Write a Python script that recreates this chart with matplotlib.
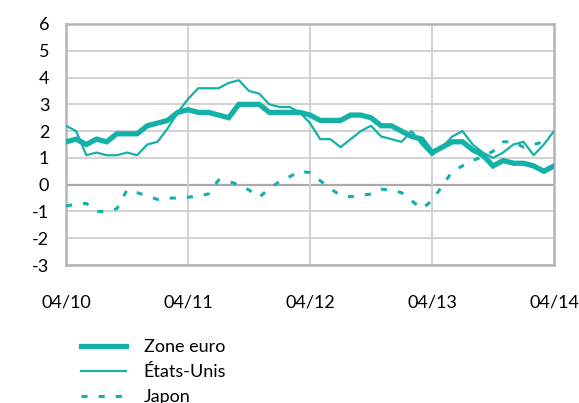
import matplotlib
matplotlib.use("Agg")
import matplotlib.pyplot as plt
import numpy as np

plt.rcParams['font.family'] = ['Lato', 'DejaVu Sans']

# Monthly data, 04/2010 .. 04/2014
zone_euro = [1.6, 1.7, 1.5, 1.7, 1.6, 1.9, 1.9, 1.9, 2.2, 2.3, 2.4, 2.7,
             2.8, 2.7, 2.7, 2.6, 2.5, 3.0, 3.0, 3.0, 2.7, 2.7, 2.7, 2.7,
             2.6, 2.4, 2.4, 2.4, 2.6, 2.6, 2.5, 2.2, 2.2, 2.0, 1.8, 1.7,
             1.2, 1.4, 1.6, 1.6, 1.3, 1.1, 0.7, 0.9, 0.8, 0.8, 0.7, 0.5,
             0.7]
etats_unis = [2.2, 2.0, 1.1, 1.2, 1.1, 1.1, 1.2, 1.1, 1.5, 1.6, 2.1, 2.7,
              3.2, 3.6, 3.6, 3.6, 3.8, 3.9, 3.5, 3.4, 3.0, 2.9, 2.9, 2.7,
              2.3, 1.7, 1.7, 1.4, 1.7, 2.0, 2.2, 1.8, 1.7, 1.6, 2.0, 1.5,
              1.1, 1.4, 1.8, 2.0, 1.5, 1.2, 1.0, 1.2, 1.5, 1.6, 1.1, 1.5,
              2.0]
japon = [-0.8, -0.72, -0.7, -1.0, -1.0, -0.9, -0.2, -0.3, -0.42, -0.55, -0.5, -0.5,
         -0.47, -0.42, -0.35, 0.17, 0.12, 0.0, -0.2, -0.47, -0.15, 0.12, 0.3, 0.5,
         0.45, 0.15, -0.15, -0.4, -0.45, -0.4, -0.35, -0.17, -0.2, -0.3, -0.6, -0.9,
         -0.6, -0.05, 0.5, 0.7, 0.9, 1.05, 1.25, 1.6, 1.6, 1.4, 1.5, 1.6]

x_tick_labels = ['04/10', '04/11', '04/12', '04/13', '04/14']
y_ticks = [6, 5, 4, 3, 2, 1, 0, -1, -2, -3]

teal = '#14b1a8'
grid_c = '#cfcfcf'

fig = plt.figure(figsize=(5.79, 4.03), dpi=100)
ax = fig.add_axes([66/579, 1 - 265/403, (554 - 66)/579, (265 - 24)/403])

months_ez = np.arange(len(zone_euro))
months_us = np.arange(len(etats_unis))
months_jp = np.arange(len(japon))

ax.plot(months_ez, zone_euro, color=teal, lw=3.8, solid_joinstyle='miter', label='Zone euro', zorder=4)
ax.plot(months_us, etats_unis, color=teal, lw=1.6, label='États-Unis', zorder=5)
ax.plot(months_jp, japon, color=teal, lw=2.2, dashes=(2.0, 3.6), label='Japon', zorder=3)

ax.set_xlim(0, 48)
ax.set_ylim(-3, 6)
ax.set_xticks([0, 12, 24, 36, 48])
ax.set_xticklabels(x_tick_labels)
ax.set_yticks(y_ticks)
ax.set_yticklabels([str(v) for v in y_ticks])

for v in y_ticks:
    if v == 0:
        ax.axhline(v, color='#a9a9a9', lw=1.6, zorder=1)
    else:
        ax.axhline(v, color=grid_c, lw=1.3, zorder=1)
for xv in [12, 24, 36]:
    ax.axvline(xv, color=grid_c, lw=1.3, zorder=1)

for s in ax.spines.values():
    s.set_color('#b5b5b5')
    s.set_linewidth(1.8)

ax.tick_params(axis='both', length=0, labelsize=13, colors='black')
ax.tick_params(axis='x', pad=21)
ax.tick_params(axis='y', pad=12)

leg = fig.legend(loc='upper left', bbox_to_anchor=(74/579, 1 - 332/403),
                 frameon=False, fontsize=13, handlelength=2.5, handletextpad=0.95,
                 labelspacing=0.5, borderaxespad=0)

fig.savefig('out.png', dpi=100)
